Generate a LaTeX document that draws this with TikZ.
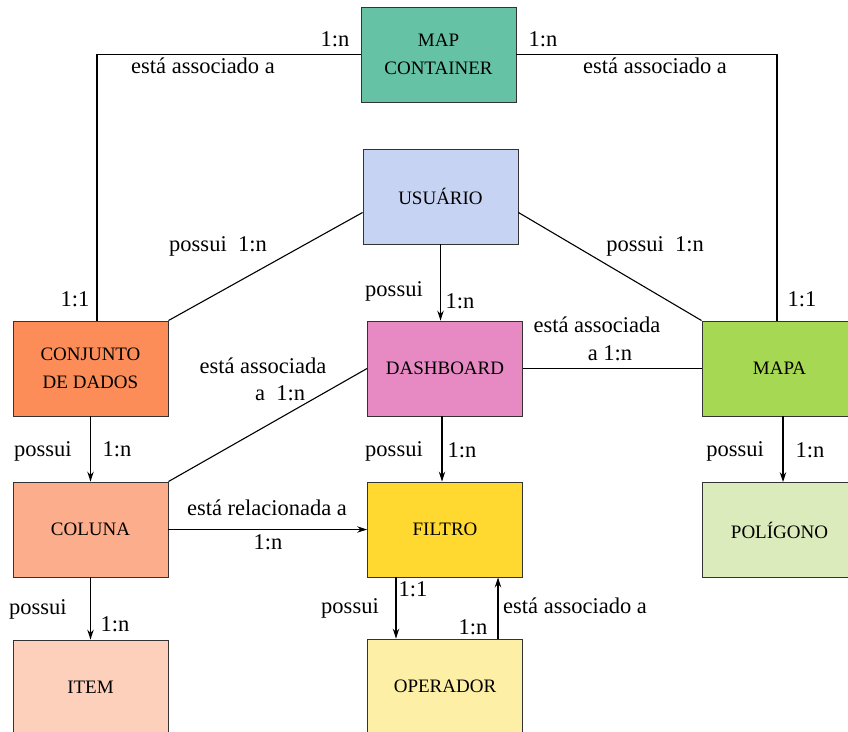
\documentclass[tikz,border=0pt]{standalone}
\usepackage{fontspec}
\setmainfont{Liberation Serif}
\usetikzlibrary{arrows.meta}
\definecolor{cMapCont}{HTML}{66C2A5}
\definecolor{cUsuario}{HTML}{C7D3F2}
\definecolor{cConj}{HTML}{FC8D59}
\definecolor{cDash}{HTML}{E78AC3}
\definecolor{cMapa}{HTML}{A6D854}
\definecolor{cColuna}{HTML}{FCAD8B}
\definecolor{cFiltro}{HTML}{FFD92F}
\definecolor{cPoli}{HTML}{DBEBBB}
\definecolor{cItem}{HTML}{FDD0BC}
\definecolor{cOper}{HTML}{FEEFA6}
\definecolor{cBorder}{HTML}{333333}
\tikzset{
  entity/.style={draw=cBorder, line width=0.9pt, minimum width=155pt, minimum height=95pt,
    inner sep=0pt, align=center, font=\fontsize{19}{28}\selectfont},
  lbl/.style={inner sep=0pt, font=\fontsize{22.5}{27}\selectfont, text height=0.7em, text depth=0.2em, yshift=-4pt},
  conn/.style={draw=black, line width=1.1pt},
  arr/.style={conn, -{Stealth[length=10pt,width=6.5pt]}}
}
\begin{document}
\begin{tikzpicture}[x=1pt,y=-1pt]
\useasboundingbox (0,0) rectangle (848,731);
% entities
\node[entity, fill=cMapCont] (mapcont) at (438.5,54.5) {MAP\\CONTAINER};
\node[entity, fill=cUsuario] (usuario) at (440.5,196.5) {USUÁRIO};
\node[entity, fill=cConj] (conj) at (90.5,368.5) {CONJUNTO\\DE DADOS};
\node[entity, fill=cDash] (dash) at (445,368.5) {DASHBOARD};
\node[entity, fill=cMapa] (mapa) at (779.5,368.5) {MAPA};
\node[entity, fill=cColuna] (coluna) at (90.5,529.5) {COLUNA};
\node[entity, fill=cFiltro] (filtro) at (445,529.5) {FILTRO};
\node[entity, fill=cPoli] (poli) at (779.5,530) {POLÍGONO};
\node[entity, fill=cItem] (item) at (90.5,687.5) {ITEM};
\node[entity, fill=cOper] (oper) at (445,686.5) {OPERADOR};
% corner coordinates
\coordinate (cl) at (97,54.5);
\coordinate (cr) at (777,54.5);
% connectors
\draw[conn] (mapcont.west) -- (cl) -- (cl |- conj.north);
\draw[conn] (mapcont.east) -- (cr) -- (cr |- mapa.north);
\draw[conn] (usuario.west) ++(0,16) coordinate (uw) (uw) -- (conj.north east);
\draw[conn] (usuario.east) ++(0,16) coordinate (ue) (ue) -- (mapa.north west);
\draw[arr] (usuario.south) -- (usuario.south |- dash.north);
\draw[conn] (dash.east) -- (mapa.west);
\draw[conn] (dash.west) -- (coluna.north east);
\draw[arr] (conj.south) -- (coluna.north);
\draw[arr] ([xshift=-3pt]dash.south) -- ([xshift=-3pt]filtro.north);
\draw[arr] ([xshift=3.5pt]mapa.south) -- ([xshift=3.5pt]poli.north);
\draw[arr] (coluna.east) -- (filtro.west);
\draw[arr] (coluna.south) -- (item.north);
\draw[arr] ([xshift=-49pt]filtro.south) -- ([xshift=-49pt]oper.north);
\draw[arr] ([xshift=53pt]oper.north) -- ([xshift=53pt]filtro.south);
% labels
\node[lbl] (l1) at (335,40) {1:n};
\node[lbl] (l2) at (203,67) {está associado a};
\node[lbl] (l3) at (543,40) {1:n};
\node[lbl] (l4) at (655,67) {está associado a};
\node[lbl] (l5) at (75,300) {1:1};
\node[lbl] (l6) at (802,300) {1:1};
\node[lbl] (l7) at (218,245) {possui\ \ 1:n};
\node[lbl] (l8) at (655,245) {possui\ \ 1:n};
\node[lbl] (l9) at (394,290) {possui};
\node[lbl] (l10) at (460,302) {1:n};
\node[lbl] (l11) at (597,326) {está associada};
\node[lbl] (l12) at (610,354) {a 1:n};
\node[lbl] (l13) at (263,367) {está associada};
\node[lbl] (l14) at (280,394) {a\ \ 1:n};
\node[lbl] (l15) at (43,450) {possui};
\node[lbl] (l16) at (117,450) {1:n};
\node[lbl] (l17) at (394,450) {possui};
\node[lbl] (l18) at (462,451) {1:n};
\node[lbl] (l19) at (735,450) {possui};
\node[lbl] (l20) at (810,451) {1:n};
\node[lbl] (l21) at (267,509) {está relacionada a};
\node[lbl] (l22) at (268,543) {1:n};
\node[lbl] (l23) at (38,608) {possui};
\node[lbl] (l24) at (115,625) {1:n};
\node[lbl] (l25) at (413,590) {1:1};
\node[lbl] (l26) at (350,607) {possui};
\node[lbl] (l27) at (575,607) {está associado a};
\node[lbl] (l28) at (473,628) {1:n};
\end{tikzpicture}
\end{document}
